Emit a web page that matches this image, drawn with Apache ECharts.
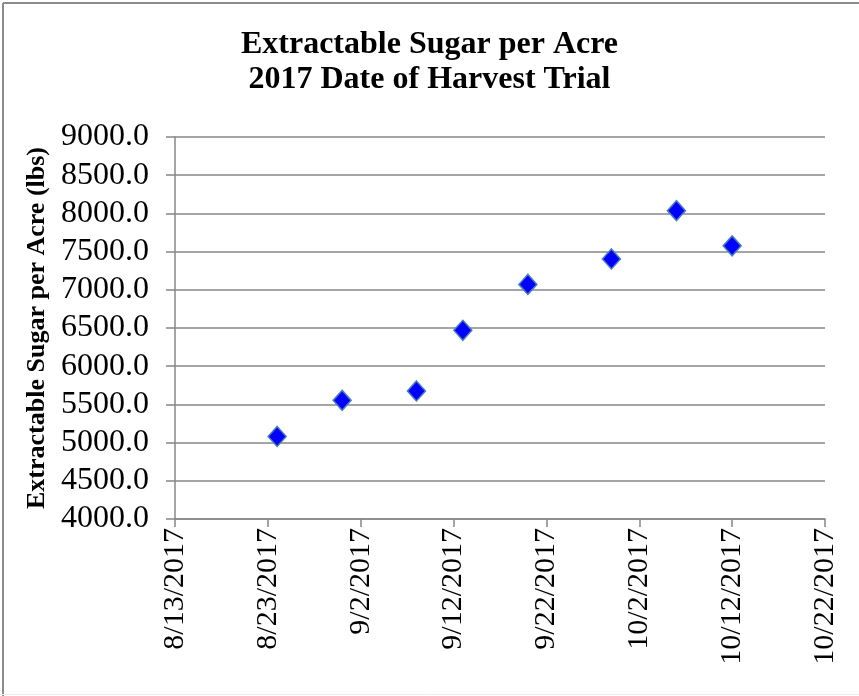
<!DOCTYPE html>
<html>
<head>
<meta charset="utf-8">
<script src="https://cdn.jsdelivr.net/npm/echarts@6/dist/echarts.min.js"></script>
<style>
  html, body { margin: 0; padding: 0; background: #ffffff; }
  #chart { width: 859px; height: 696px; }
</style>
</head>
<body>
<div id="chart"></div>
<script>
// Harvest dates and extractable sugar yield (lbs per acre)
const harvestDates = ['2017-08-24', '2017-08-31', '2017-09-08', '2017-09-13',
                      '2017-09-20', '2017-09-29', '2017-10-06', '2017-10-12'];
const sugarPerAcre = [5080, 5553, 5676, 6470, 7071, 7404, 8036, 7575];

// Axis range: x in days from the start date, y in lbs
const startDate = '2017-08-13';
const xSpanDays = 70;
const xStepDays = 10;
const yMin = 4000, yMax = 9000, yStep = 500;

const DAY = 86400000;
const t0 = Date.parse(startDate + 'T00:00:00Z');
const dayOffset = s => Math.round((Date.parse(s + 'T00:00:00Z') - t0) / DAY);
const fmtDate = off => {
  const d = new Date(t0 + off * DAY);
  return (d.getUTCMonth() + 1) + '/' + d.getUTCDate() + '/' + d.getUTCFullYear();
};

const points = harvestDates.map((d, i) => [dayOffset(d), sugarPerAcre[i]]);

const serif = '"Liberation Serif", "Times New Roman", serif';
const gray = '#878787';

const chart = echarts.init(document.getElementById('chart'), null, { renderer: 'canvas' });
chart.setOption({
  backgroundColor: '#ffffff',
  animation: false,
  title: {
    text: 'Extractable Sugar per Acre\n2017 Date of Harvest Trial',
    left: 'center',
    top: 22,
    padding: [5, 0, 5, 14],
    textStyle: {
      fontFamily: serif, fontWeight: 'bold', fontSize: 32,
      lineHeight: 35, color: '#000000'
    }
  },
  graphic: [
    { type: 'line', shape: { x1: 3, y1: 3, x2: 3, y2: 696 },
      style: { stroke: '#8c8c8c', lineWidth: 2 } },
    { type: 'line', shape: { x1: 3, y1: 3, x2: 859, y2: 3 },
      style: { stroke: '#8c8c8c', lineWidth: 2 } },
    { type: 'line', shape: { x1: 0, y1: 694.5, x2: 859, y2: 694.5 },
      style: { stroke: '#ececec', lineWidth: 1 } }
  ],
  grid: { left: 175, right: 34, top: 137, bottom: 177 },
  xAxis: {
    type: 'value',
    min: 0, max: xSpanDays, interval: xStepDays,
    axisLine: { show: true, lineStyle: { color: gray, width: 1.5 } },
    axisTick: { show: true, length: 8, lineStyle: { color: gray, width: 1.5 } },
    splitLine: { show: false },
    axisLabel: {
      rotate: 90, margin: 9,
      fontFamily: serif, fontSize: 30, color: '#000000',
      formatter: v => fmtDate(v)
    }
  },
  yAxis: {
    type: 'value',
    min: yMin, max: yMax, interval: yStep,
    name: 'Extractable Sugar per Acre (lbs)',
    nameLocation: 'middle',
    nameGap: 124,
    nameTextStyle: { fontFamily: serif, fontWeight: 'bold', fontSize: 26, color: '#000000' },
    axisLine: { show: true, lineStyle: { color: gray, width: 1.5 } },
    axisTick: { show: true, length: 9, lineStyle: { color: gray, width: 1.5 } },
    splitLine: { show: true, lineStyle: { color: gray, width: 1.5 } },
    axisLabel: {
      margin: 26,
      fontFamily: serif, fontSize: 32, color: '#000000',
      formatter: v => v.toFixed(1)
    }
  },
  series: [{
    type: 'scatter',
    data: points,
    symbol: 'diamond',
    symbolSize: [18, 20],
    itemStyle: { color: '#0000ff', borderColor: '#4a7ebb', borderWidth: 1.5, opacity: 1 }
  }]
});
</script>
</body>
</html>
